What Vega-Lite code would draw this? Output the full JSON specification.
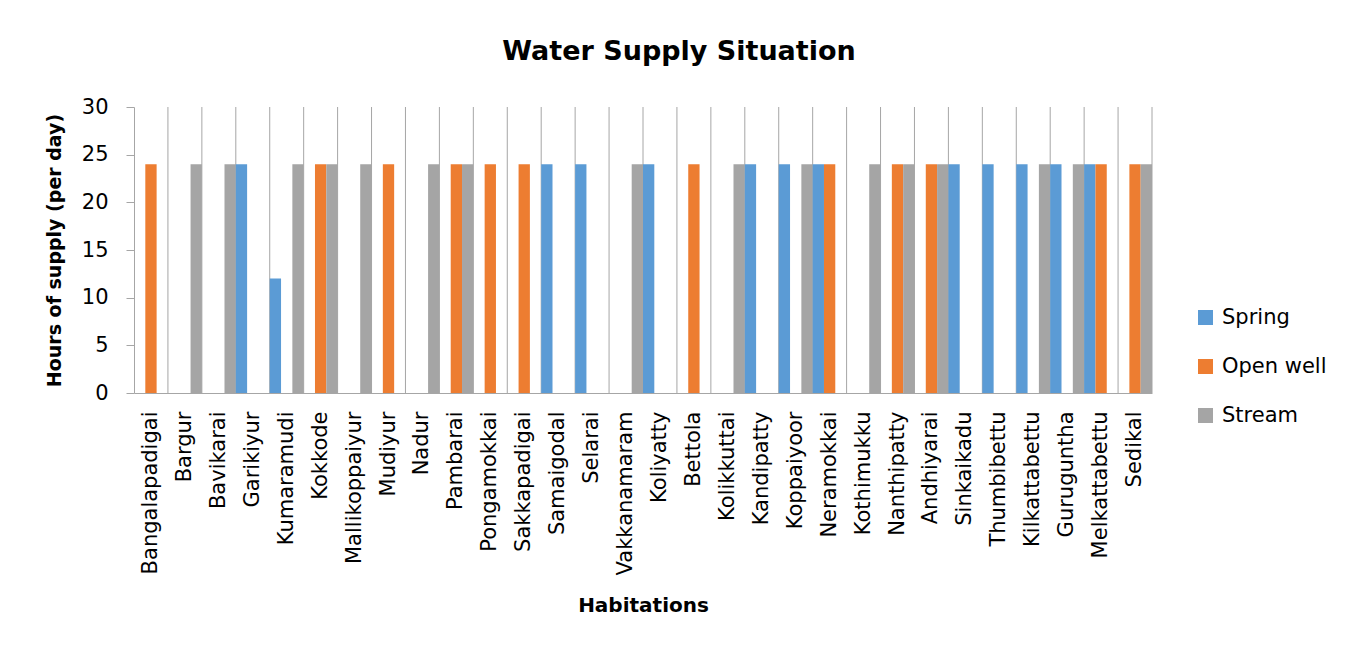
{
  "$schema": "https://vega.github.io/schema/vega-lite/v6.json",
  "width": 1018,
  "height": 286,
  "autosize": {"type": "none"},
  "padding": {"left": 134, "top": 107, "right": 206, "bottom": 254},
  "background": "white",
  "title": {"text": "Water Supply Situation", "font": "DejaVu Sans", "fontSize": 27, "fontWeight": "bold", "color": "black", "anchor": "middle", "dx": 36, "offset": 30},
  "config": {"view": {"stroke": null}, "font": "DejaVu Sans"},
  "data": {"values": [
    {"hab": "Bangalapadigai", "Spring": null, "Open well": 24, "Stream": null},
    {"hab": "Bargur", "Spring": null, "Open well": null, "Stream": 24},
    {"hab": "Bavikarai", "Spring": null, "Open well": null, "Stream": 24},
    {"hab": "Garikiyur", "Spring": 24, "Open well": null, "Stream": null},
    {"hab": "Kumaramudi", "Spring": 12, "Open well": null, "Stream": 24},
    {"hab": "Kokkode", "Spring": null, "Open well": 24, "Stream": 24},
    {"hab": "Mallikoppaiyur", "Spring": null, "Open well": null, "Stream": 24},
    {"hab": "Mudiyur", "Spring": null, "Open well": 24, "Stream": null},
    {"hab": "Nadur", "Spring": null, "Open well": null, "Stream": 24},
    {"hab": "Pambarai", "Spring": null, "Open well": 24, "Stream": 24},
    {"hab": "Pongamokkai", "Spring": null, "Open well": 24, "Stream": null},
    {"hab": "Sakkapadigai", "Spring": null, "Open well": 24, "Stream": null},
    {"hab": "Samaigodal", "Spring": 24, "Open well": null, "Stream": null},
    {"hab": "Selarai", "Spring": 24, "Open well": null, "Stream": null},
    {"hab": "Vakkanamaram", "Spring": null, "Open well": null, "Stream": 24},
    {"hab": "Koliyatty", "Spring": 24, "Open well": null, "Stream": null},
    {"hab": "Bettola", "Spring": null, "Open well": 24, "Stream": null},
    {"hab": "Kolikkuttai", "Spring": null, "Open well": null, "Stream": 24},
    {"hab": "Kandipatty", "Spring": 24, "Open well": null, "Stream": null},
    {"hab": "Koppaiyoor", "Spring": 24, "Open well": null, "Stream": 24},
    {"hab": "Neramokkai", "Spring": 24, "Open well": 24, "Stream": null},
    {"hab": "Kothimukku", "Spring": null, "Open well": null, "Stream": 24},
    {"hab": "Nanthipatty", "Spring": null, "Open well": 24, "Stream": 24},
    {"hab": "Andhiyarai", "Spring": null, "Open well": 24, "Stream": 24},
    {"hab": "Sinkaikadu", "Spring": 24, "Open well": null, "Stream": null},
    {"hab": "Thumbibettu", "Spring": 24, "Open well": null, "Stream": null},
    {"hab": "Kilkattabettu", "Spring": 24, "Open well": null, "Stream": 24},
    {"hab": "Guruguntha", "Spring": 24, "Open well": null, "Stream": 24},
    {"hab": "Melkattabettu", "Spring": 24, "Open well": 24, "Stream": null},
    {"hab": "Sedikal", "Spring": null, "Open well": 24, "Stream": 24}
  ]},
  "layer": [
    {
      "mark": {"type": "rule", "color": "#A6A6A6", "strokeWidth": 1},
      "encoding": {
        "x": {"field": "hab", "type": "nominal", "sort": null, "bandPosition": 1,
              "scale": {"type": "band", "paddingInner": 0, "paddingOuter": 0}},
        "y": {"datum": 0, "type": "quantitative"},
        "y2": {"datum": 30}
      }
    },
    {
      "transform": [
        {"fold": ["Spring", "Open well", "Stream"], "as": ["source", "hours"]},
        {"filter": "isValid(datum.hours)"}
      ],
      "mark": {"type": "bar"},
      "encoding": {
        "x": {"field": "hab", "type": "nominal", "sort": null,
              "scale": {"type": "band", "paddingInner": 0, "paddingOuter": 0},
              "axis": {"title": "Habitations", "titleFontSize": 20, "titleFontWeight": "bold", "titleColor": "black", "titlePadding": 21,
                       "labelAngle": -90, "labelFontSize": 21, "labelPadding": 18, "labelColor": "black", "ticks": false, "tickSize": 0,
                       "domainColor": "#A6A6A6", "domainWidth": 1, "grid": false}},
        "xOffset": {"field": "source", "type": "nominal", "sort": ["Spring", "Open well", "Stream"],
                    "scale": {"domain": ["Spring", "Open well", "Stream"], "paddingInner": 0, "paddingOuter": 0}},
        "y": {"field": "hours", "type": "quantitative",
              "scale": {"domain": [0, 30], "nice": false},
              "axis": {"title": "Hours of supply (per day)", "titleFontSize": 19, "titleFontWeight": "bold", "titleColor": "black", "titlePadding": 17,
                       "values": [0, 5, 10, 15, 20, 25, 30], "labelFontSize": 21, "labelPadding": 18, "labelColor": "black",
                       "tickSize": 8, "tickColor": "#A6A6A6", "domainColor": "#A6A6A6", "grid": false}},
        "color": {"field": "source", "type": "nominal",
                  "scale": {"domain": ["Spring", "Open well", "Stream"], "range": ["#5B9BD5", "#ED7D31", "#A5A5A5"]},
                  "legend": {"title": null, "orient": "none", "legendX": 1061, "legendY": 200, "symbolType": "square", "symbolSize": 225,
                             "symbolStrokeWidth": 0, "labelFontSize": 21, "labelColor": "black", "labelOffset": 6, "rowPadding": 27}}
      }
    }
  ]
}
